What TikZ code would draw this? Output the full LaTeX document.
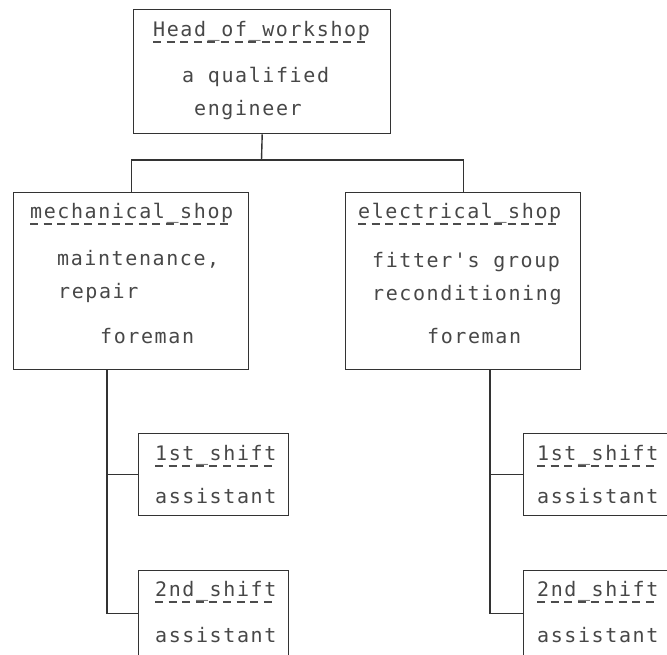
\documentclass[tikz,border=0pt]{standalone}
\usepackage{fontspec}
\newfontfamily\typefont[LetterSpace=8]{DejaVu Sans Mono}
\begin{document}
\begin{tikzpicture}[x=1pt,y=-1pt,
  frame/.style={draw=black!80, line width=1.4pt, minimum width=#1, inner sep=0pt, anchor=north west},
  txt/.style={text=black!72, font=\typefont\fontsize{20}{22}\selectfont, inner sep=0pt, anchor=base west},
  uline/.style={draw=black!70, line width=1.3pt, dash pattern=on 8pt off 5.6pt},
  link/.style={draw=black!80, line width=1.4pt}]
\useasboundingbox (0,0) rectangle (667,654);
\clip (0,0) rectangle (667,654);

% boxes
\node[frame=257pt, minimum height=124pt] (head) at (133,9) {};
\node[frame=235pt, minimum height=177pt] (mech) at (13,192) {};
\node[frame=235pt, minimum height=177pt] (elec) at (345,192) {};
\node[frame=150pt, minimum height=82pt] (ms1) at (138,433) {};
\node[frame=150pt, minimum height=86pt] (ms2) at (138,570) {};
\node[frame=150pt, minimum height=82pt] (es1) at (523,433) {};
\node[frame=150pt, minimum height=86pt] (es2) at (523,570) {};

% texts of the head box
\node[txt] (t1) at (153,36) {Head\_of\_workshop};
\draw[uline] ([yshift=-6pt]t1.base west) -- ([yshift=-6pt]t1.base east);
\node[txt] (t2) at (182,82) {a qualified};
\node[txt] (t3) at (194,115) {engineer};

% mechanical shop
\node[txt] (m1) at (30,218) {mechanical\_shop};
\draw[uline] ([yshift=-6pt]m1.base west) -- ([yshift=-6pt]m1.base east);
\node[txt] (m2) at (57,265) {maintenance,};
\node[txt] (m3) at (58,298) {repair};
\node[txt] (m4) at (100,343) {foreman};

% electrical shop
\node[txt] (e1) at (358,218) {electrical\_shop};
\draw[uline] ([yshift=-6pt]e1.base west) -- ([yshift=-6pt]e1.base east);
\node[txt] (e2) at (372,267) {fitter's group};
\node[txt] (e3) at (372,300) {reconditioning};
\node[txt] (e4) at (427,343) {foreman};

% shifts
\foreach \nm/\x/\y/\lab in {a/155/460/1st, b/155/596/2nd, c/537/460/1st, d/537/596/2nd}{
  \node[txt] (s\nm) at (\x,\y) {\lab\_shift};
  \draw[uline] ([yshift=-6pt]s\nm.base west) -- ([yshift=-6pt]s\nm.base east);
}
\node[txt] (sa2) at (155,503) {assistant};
\node[txt] (sb2) at (155,642) {assistant};
\node[txt] (sc2) at (537,503) {assistant};
\node[txt] (sd2) at (537,642) {assistant};

% connectors
\coordinate (fork) at (261.5,160);
\draw[link] (head.south) -- (fork);
\draw[link] (mech.north) -- (mech.north |- fork) -- (elec.north |- fork) -- (elec.north);
\coordinate (mfoot) at (107,369);
\coordinate (efoot) at (490,369);
\draw[link] (mfoot) |- (ms1.west);
\draw[link] (mfoot) |- (ms2.west);
\draw[link] (efoot) |- (es1.west);
\draw[link] (efoot) |- (es2.west);
\end{tikzpicture}
\end{document}
